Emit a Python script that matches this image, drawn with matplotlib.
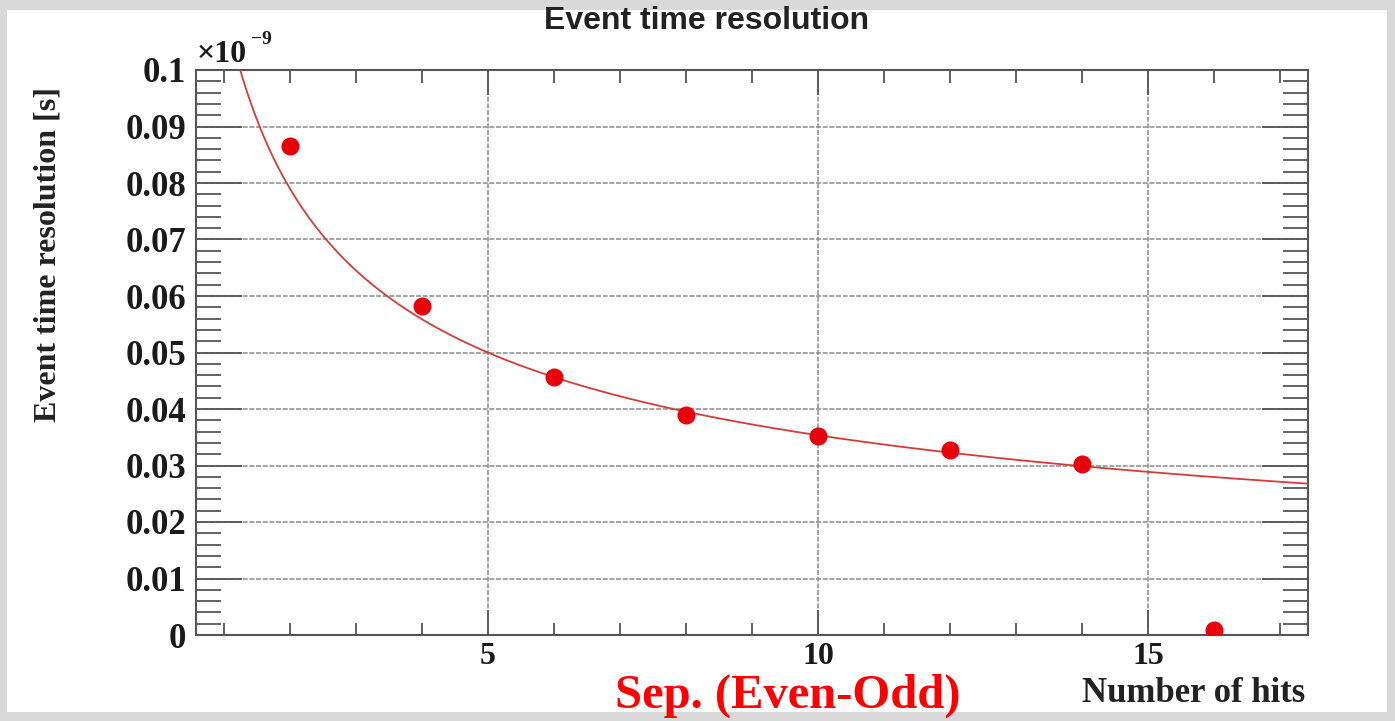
import numpy as np
import matplotlib.pyplot as plt
from matplotlib.patches import Rectangle
from matplotlib.ticker import MultipleLocator

# number of hits per half-event and the measured resolution (units of 1e-9 s)
n_hits = [2, 4, 6, 8, 10, 12, 14, 16]
resolution = [0.0866, 0.0582, 0.0457, 0.0389, 0.0352, 0.0327, 0.0303, 0.0009]

# fit p0 / sqrt(N)
fit_p0 = 0.1118
fit_range = (1.0, 17.4)

x_range = (0.58, 17.42)
y_range = (0.0, 0.1)
y_ticks = [0, 0.01, 0.02, 0.03, 0.04, 0.05, 0.06, 0.07, 0.08, 0.09, 0.1]
y_ticklabels = ["0", "0.01", "0.02", "0.03", "0.04", "0.05", "0.06",
                "0.07", "0.08", "0.09", "0.1"]
x_ticks = [5, 10, 15]

fig = plt.figure(figsize=(13.95, 7.21), dpi=100, facecolor="#d9d9d9")
fig.patches.append(Rectangle((7 / 1395, 9 / 721), 1380 / 1395, 702 / 721,
                             transform=fig.transFigure, facecolor="white",
                             edgecolor="none", zorder=-10))

ax = fig.add_axes([196 / 1395, 1 - 635 / 721, 1112 / 1395, 565 / 721])
ax.set_zorder(2)
ax.set_facecolor("white")

serif = "Liberation Serif"
ink = "#1a1a1a"

ax.set_xlim(*x_range)
ax.set_ylim(*y_range)
ax.set_xticks(x_ticks)
ax.set_xticklabels([str(t) for t in x_ticks], fontfamily=serif,
                   fontweight="bold", fontsize=23)
ax.xaxis.set_minor_locator(MultipleLocator(1))
ax.set_yticks(y_ticks)
ax.set_yticklabels(y_ticklabels, fontfamily=serif, fontweight="bold", fontsize=25)
ax.yaxis.set_minor_locator(MultipleLocator(0.002))

ax.tick_params(axis="both", which="both", direction="in", color="#555555",
               top=True, right=True, width=1.3, labelcolor=ink)
ax.tick_params(axis="y", which="major", length=33, pad=7)
ax.tick_params(axis="y", which="minor", length=18)
ax.tick_params(axis="x", which="major", length=18, pad=5)
ax.tick_params(axis="x", which="minor", length=9)

for s in ax.spines.values():
    s.set_color("#555555")
    s.set_linewidth(1.5)

ax.grid(True, which="major", color="#949494", linewidth=1.2,
        linestyle=(0, (3, 1)))
ax.set_axisbelow(True)

xf = np.linspace(fit_range[0], fit_range[1], 400)
ax.plot(xf, fit_p0 / np.sqrt(xf), color="#d43c3c", linewidth=1.3, zorder=3)
ax.plot(n_hits, resolution, "o", color="#e8000b", markersize=13,
        markeredgewidth=0, zorder=4)

# exponent marker above the y axis
fig.text(197 / 1395, 1 - 62 / 721, "×10", fontfamily=serif, fontweight="bold",
         fontsize=23, ha="left", va="baseline", color=ink)
fig.text(251 / 1395, 1 - 44 / 721, "−9", fontfamily=serif, fontweight="bold",
         fontsize=14, ha="left", va="baseline", color=ink)

fig.text(707 / 1395, 1 - 21 / 721, "Event time resolution",
         fontfamily="Liberation Sans", fontweight="bold", fontsize=23,
         ha="center", va="center", color="#222222")
fig.text(48 / 1395, 1 - 254 / 721, "Event time resolution [s]", rotation=90,
         fontfamily=serif, fontweight="bold", fontsize=23,
         ha="center", va="center", color="#222222")
fig.text(1305 / 1395, 1 - 693 / 721, "Number of hits",
         fontfamily=serif, fontweight="bold", fontsize=25,
         ha="right", va="center", color="#222222")
fig.text(788 / 1395, 1 - 708 / 721, "Sep. (Even-Odd)",
         fontfamily=serif, fontweight="bold", fontsize=35,
         ha="center", va="baseline", color="#ff0000")

fig.savefig("out.png", dpi=100, facecolor=fig.get_facecolor())
